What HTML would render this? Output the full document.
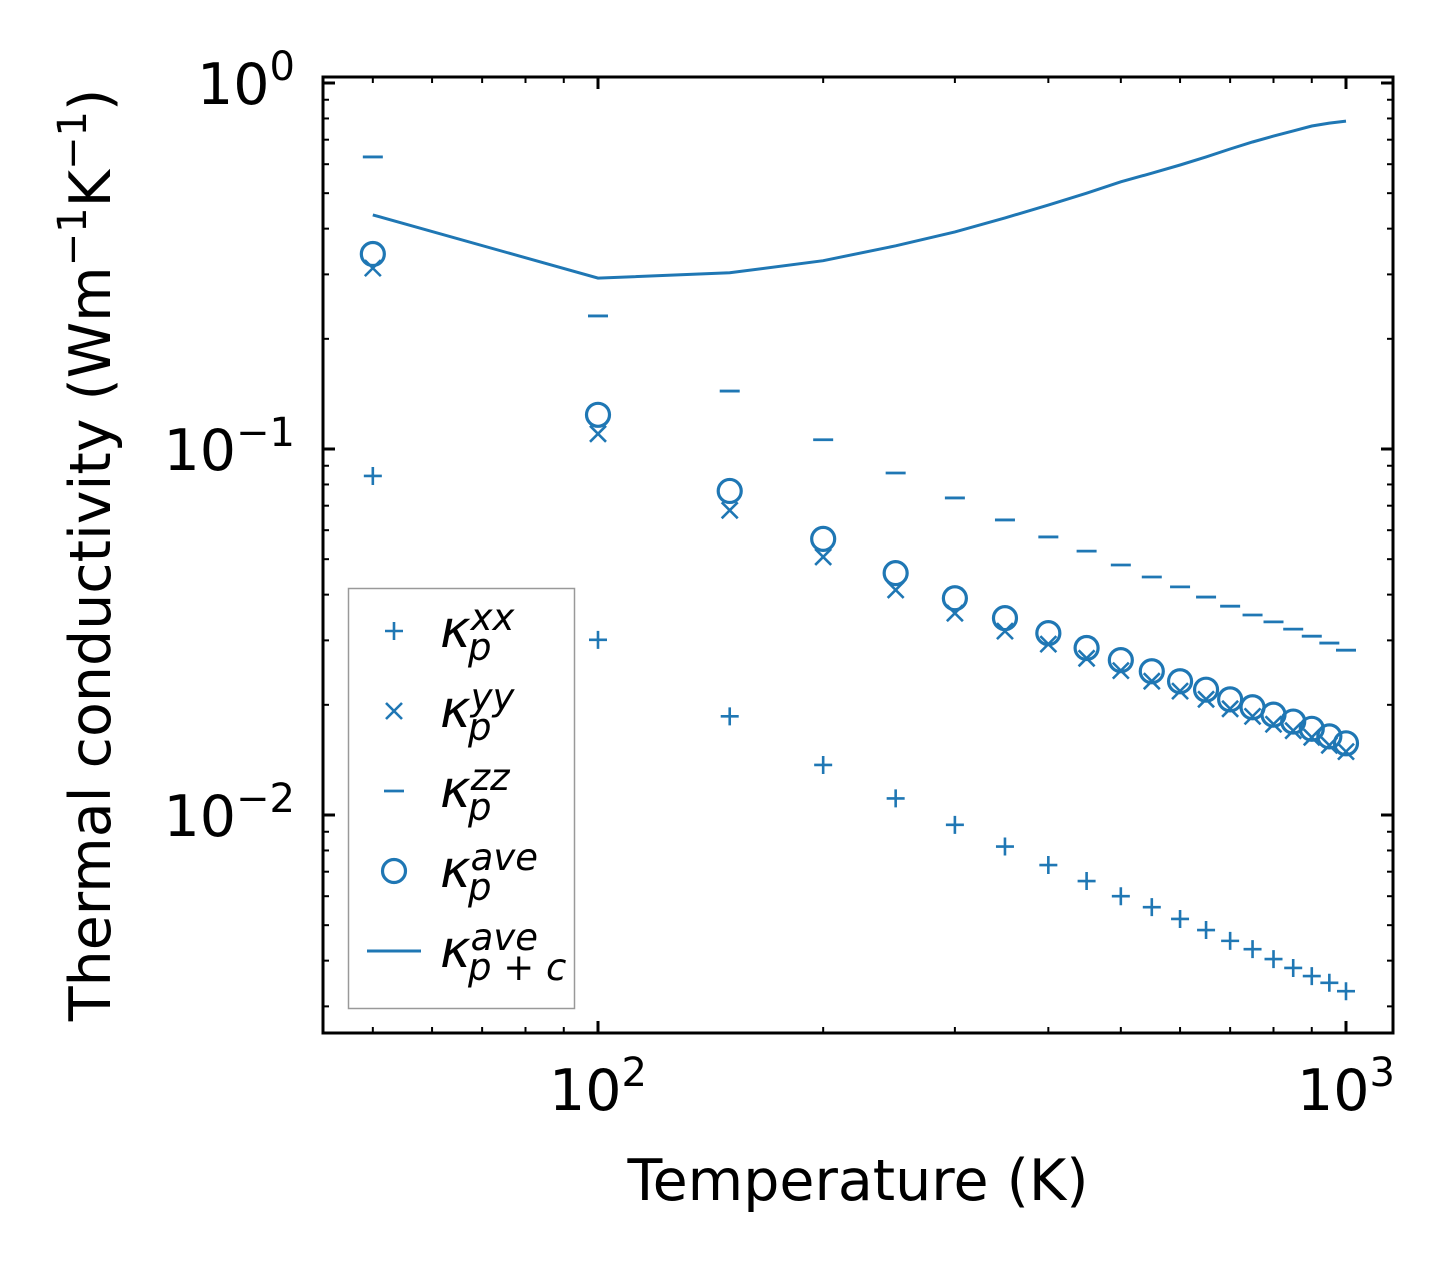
<!DOCTYPE html>
<html><head><meta charset="utf-8"><style>
html,body{margin:0;padding:0;background:#fff}
svg text{font-family:"DejaVu Sans","Liberation Sans",sans-serif;fill:#000}
</style></head><body>
<svg id="chart" width="1454" height="1272" viewBox="0 0 1454 1272" xmlns="http://www.w3.org/2000/svg">
<rect x="0" y="0" width="1454" height="1272" fill="#fff"/>
<g id="marks"></g>
<g id="axes"></g>
<text x="858" y="1200" font-size="57" text-anchor="middle">Temperature (K)</text>
<text transform="translate(110,555) rotate(-90)" font-size="57" text-anchor="middle">Thermal conductivity (Wm<tspan font-size="40" dy="-24">−1</tspan><tspan dy="24">K</tspan><tspan font-size="40" dy="-24">−1</tspan><tspan dy="24">)</tspan></text>
<g id="legend"></g>
</svg>
<script>
const temps=[50,100,150,200,250,300,350,400,450,500,550,600,650,700,750,800,850,900,950,1000];
const kxx=[0.0844,0.0301,0.0186,0.0137,0.0111,0.0094,0.0082,0.0073,0.0066,0.0060,0.0056,0.0052,0.00485,0.00453,0.0043,0.00404,0.00382,0.00363,0.00348,0.0033];
const kyy=[0.312,0.110,0.068,0.0507,0.0412,0.0356,0.0318,0.0293,0.0268,0.0248,0.0232,0.0218,0.0207,0.0195,0.0186,0.0177,0.0170,0.0163,0.0155,0.0149];
const kzz=[0.628,0.231,0.144,0.106,0.086,0.0735,0.064,0.0575,0.0526,0.0482,0.0447,0.042,0.0394,0.0372,0.0352,0.0337,0.0322,0.0308,0.0295,0.0282];
const kave=[0.341,0.124,0.0768,0.0568,0.0458,0.0391,0.0345,0.0314,0.0286,0.0265,0.0247,0.0232,0.022,0.0207,0.0197,0.0188,0.018,0.0172,0.0164,0.0157];
const kpc=[0.436,0.293,0.303,0.327,0.359,0.392,0.428,0.464,0.50,0.537,0.567,0.597,0.628,0.66,0.69,0.716,0.74,0.763,0.777,0.787];
const xMajor=[100,1000];
const xMajorLabels=["2","3"];
const yMajor=[0.01,0.1,1];
const yMajorLabels=["−2","−1","0"];

const C="#1f77b4",NS="http://www.w3.org/2000/svg";
const L=323,R=1393,T=77,B=1033;
const X=v=>598+748*(Math.log10(v)-2);
const Y=v=>83-366*Math.log10(v);
function mk(tag,attrs,parent){const e=document.createElementNS(NS,tag);for(const k in attrs)e.setAttribute(k,attrs[k]);parent.appendChild(e);return e;}
const marks=document.getElementById('marks'),axes=document.getElementById('axes'),leg=document.getElementById('legend');

function plus(g,x,y){return mk('path',{d:`M${x-9},${y}H${x+9}M${x},${y-9}V${y+9}`,stroke:C,'stroke-width':2.6,fill:'none'},g);}
function cross(g,x,y){return mk('path',{d:`M${x-8},${y-8}L${x+8},${y+8}M${x-8},${y+8}L${x+8},${y-8}`,stroke:C,'stroke-width':2.6,fill:'none'},g);}
function minus(g,x,y){return mk('path',{d:`M${x-10},${y}H${x+10}`,stroke:C,'stroke-width':2.8,fill:'none'},g);}
function circ(g,x,y){return mk('circle',{cx:x,cy:y,r:11.5,stroke:C,'stroke-width':3.2,fill:'none'},g);}

let d='';temps.forEach((t,i)=>{d+=(i?'L':'M')+X(t).toFixed(1)+','+Y(kpc[i]).toFixed(1);});
const line=mk('path',{d:d,stroke:C,'stroke-width':3,fill:'none'},marks);


temps.forEach((t,i)=>{
 const a=plus(marks,X(t),Y(kxx[i]));
 
 
 const b=cross(marks,X(t),Y(kyy[i]));
 
 
 const c=minus(marks,X(t),Y(kzz[i]));
 
 
 const e=circ(marks,X(t),Y(kave[i]));
 
 
});

const fr=mk('rect',{x:L,y:T,width:R-L,height:B-T,fill:'none',stroke:'#000','stroke-width':3},axes);


function tick(x1,y1,x2,y2,w){mk('line',{x1,y1,x2,y2,stroke:'#000','stroke-width':w},axes);}
for(let dec=10;dec<=1000;dec*=10){for(let m=1;m<10;m++){const v=m*dec;const x=X(v);if(x<L||x>R)continue;const maj=m===1;const len=maj?12:6,w=maj?3:2;tick(x,B,x,B-len,w);tick(x,T,x,T+len,w);}}
xMajor.forEach((v,i)=>{const t=mk('text',{x:X(v),y:1110,'font-size':57,'text-anchor':'middle'},axes);t.innerHTML='10<tspan font-size="40" dy="-24">'+xMajorLabels[i]+'</tspan>';});
for(let dec=0.001;dec<=1;dec*=10){for(let m=1;m<10;m++){const v=m*dec;const y=Y(v);if(y<T-1||y>B)continue;const maj=m===1;const len=maj?12:6,w=maj?3:2;tick(L,y,L+len,y,w);tick(R,y,R-len,y,w);}}
yMajor.forEach((v,i)=>{const t=mk('text',{x:295,y:Y(v)+21,'font-size':57,'text-anchor':'end'},axes);t.innerHTML='10<tspan font-size="40" dy="-24">'+yMajorLabels[i]+'</tspan>';});

const lb=mk('rect',{x:348.5,y:588.5,width:226,height:420,fill:'#fff',stroke:'#999','stroke-width':1.5},leg);


const sups=['xx','yy','zz','ave','ave'];
const subs=['p','p','p','p','p + c'];
const fns=[plus,cross,minus,circ,null];
sups.forEach((s,i)=>{
 const cy=631+80*i;
 if(fns[i])fns[i](leg,394,cy);else mk('path',{d:`M367,${cy}H421`,stroke:C,'stroke-width':3},leg);
 const t=mk('text',{x:440,y:cy+16,'font-size':52,'font-style':'italic'},leg);
 t.innerHTML='κ<tspan font-size="37" dy="-17">'+s+'</tspan><tspan font-size="37" x="468" dy="30">'+subs[i]+'</tspan>';
 
 
});
</script>
</body></html>
